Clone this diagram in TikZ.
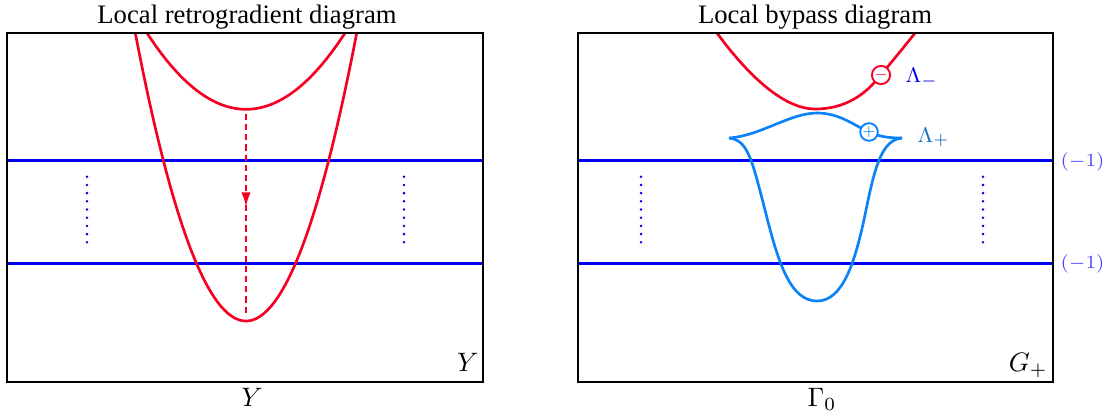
\documentclass[tikz,border=0pt]{standalone}
\usepackage{fontspec}
\setmainfont{Liberation Serif}
\usetikzlibrary{arrows.meta,decorations.markings}

\definecolor{curvered}{RGB}{245,0,35}
\definecolor{legblue}{RGB}{10,130,250}
\definecolor{levelblue}{RGB}{0,0,240}
\definecolor{tagblue}{RGB}{70,70,255}
\definecolor{lamminus}{RGB}{0,0,230}
\definecolor{lamplus}{RGB}{20,110,195}

\tikzset{
  frame/.style={line width=1.1pt, black},
  level/.style={line width=0.95pt, levelblue},
  redleg/.style={line width=1pt, curvered},
  blueleg/.style={line width=1pt, legblue},
  flowline/.style={line width=0.6pt, curvered, dash pattern=on 2.3pt off 1.5pt,
    postaction={decorate}},
  title/.style={anchor=base, inner sep=0pt, font=\fontsize{10}{12}\selectfont},
  axislabel/.style={anchor=base, inner sep=0pt, font=\fontsize{10}{12}\selectfont},
  cornerlabel/.style={anchor=base east, inner sep=0pt, font=\fontsize{10}{12}\selectfont},
  tag/.style={anchor=west, inner sep=0pt, text=tagblue, font=\fontsize{7.5}{9}\selectfont},
  lamlabel/.style={anchor=base west, inner sep=0pt, font=\fontsize{8}{10}\selectfont},
  signdisc/.style={circle, draw, fill=white, line width=0.7pt, minimum size=6.2pt,
    inner sep=0pt, font=\fontsize{4.5}{5}\selectfont},
  leveldot/.style={levelblue}
}

\begin{document}
\begin{tikzpicture}[x=0.375pt, y=-0.375pt]
\useasboundingbox (0,0) rectangle (1107,416);

% ---------------- left panel: retrogradient ----------------
\coordinate (LA) at (7,33);
\coordinate (LB) at (483,382);

\draw[level] (7,160.7) -- (483,160.7);
\draw[level] (7,263.7) -- (483,263.7);
\foreach \k in {0,...,8} {
  \fill[leveldot] (87,176.7+8.2*\k) circle (1.4);
  \fill[leveldot] (404,176.7+8.2*\k) circle (1.4);
}

% unstable and stable legs
\draw[redleg] plot[domain=135.3:356.7, samples=90, smooth] (\x,{321-0.0235*(\x-246)*(\x-246)});
\draw[redleg] plot[domain=147:345, samples=80, smooth] (\x,{109.3-0.00778*(\x-246)*(\x-246)});

\coordinate (innerMin) at (246,114);
\coordinate (outerMin) at (246,316);
\draw[flowline, decoration={markings,
    mark=at position 0.458 with {\arrow{Latex[length=5.3pt,width=3.5pt]}}}]
  (innerMin) -- (outerMin);

\draw[frame] (LA) rectangle (LB);

\node[title] (ltitle) at (247,23.3) {Local retrogradient diagram};
\node[axislabel] (lbottom) at (252,406.5) {$Y$};
\node[cornerlabel] (lcorner) at (479,371.7) {$Y$};

% ---------------- right panel: bypass ----------------
\coordinate (RA) at (578,33);
\coordinate (RB) at (1053,382);

\draw[level] (578,160.7) -- (1053,160.7);
\draw[level] (578,263.7) -- (1053,263.7);
\foreach \k in {0,...,8} {
  \fill[leveldot] (641,176.7+8.2*\k) circle (1.4);
  \fill[leveldot] (983,176.7+8.2*\k) circle (1.4);
}

% Lambda_- (red)
\coordinate (rmA) at (717,33);
\coordinate (rmMin) at (815,109);
\coordinate (rmSign) at (881,75);
\coordinate (rmB) at (915,33);
\draw[redleg] (rmA) .. controls (750,78) and (785,109) .. (rmMin)
  .. controls (845,109) and (865,95) .. (rmSign)
  .. controls (893,60) and (905,46) .. (rmB);

% Lambda_+ (light blue), with cusps at both ends
\coordinate (cuspL) at (729,138);
\coordinate (cuspR) at (902,138);
\coordinate (bpTop) at (817,113);
\coordinate (bpSign) at (869,132);
\coordinate (bpBottom) at (817,301);
\draw[blueleg] (cuspL) .. controls (760,136) and (790,113) .. (bpTop)
  .. controls (840,113) and (855,126) .. (bpSign)
  .. controls (880,137) and (890,138) .. (cuspR);
\draw[blueleg] (cuspL) .. controls (748,140) and (752,160) .. (765,210)
  .. controls (778,262) and (790,301) .. (bpBottom)
  .. controls (843,301) and (855,262) .. (865,215)
  .. controls (875,165) and (882,140) .. (cuspR);

\node[signdisc, draw=curvered, text=curvered] (minusdisc) at (rmSign) {$-$};
\node[signdisc, draw=legblue, text=legblue] (plusdisc) at (bpSign) {$+$};

\node[lamlabel, text=lamminus] (lamm) at (905,82.7) {$\Lambda_-$};
\node[lamlabel, text=lamplus] (lamp) at (917,142) {$\Lambda_+$};

\draw[frame] (RA) rectangle (RB);

\node[tag] (tagtop) at (1060,161.7) {$(-1)$};
\node[tag] (tagbot) at (1060,264) {$(-1)$};

\node[title] (rtitle) at (815,23.5) {Local bypass diagram};
\node[axislabel] (rbottom) at (822,406) {$\Gamma_0$};
\node[cornerlabel] (rcorner) at (1048,371.7) {$G_+$};
\end{tikzpicture}
\end{document}
